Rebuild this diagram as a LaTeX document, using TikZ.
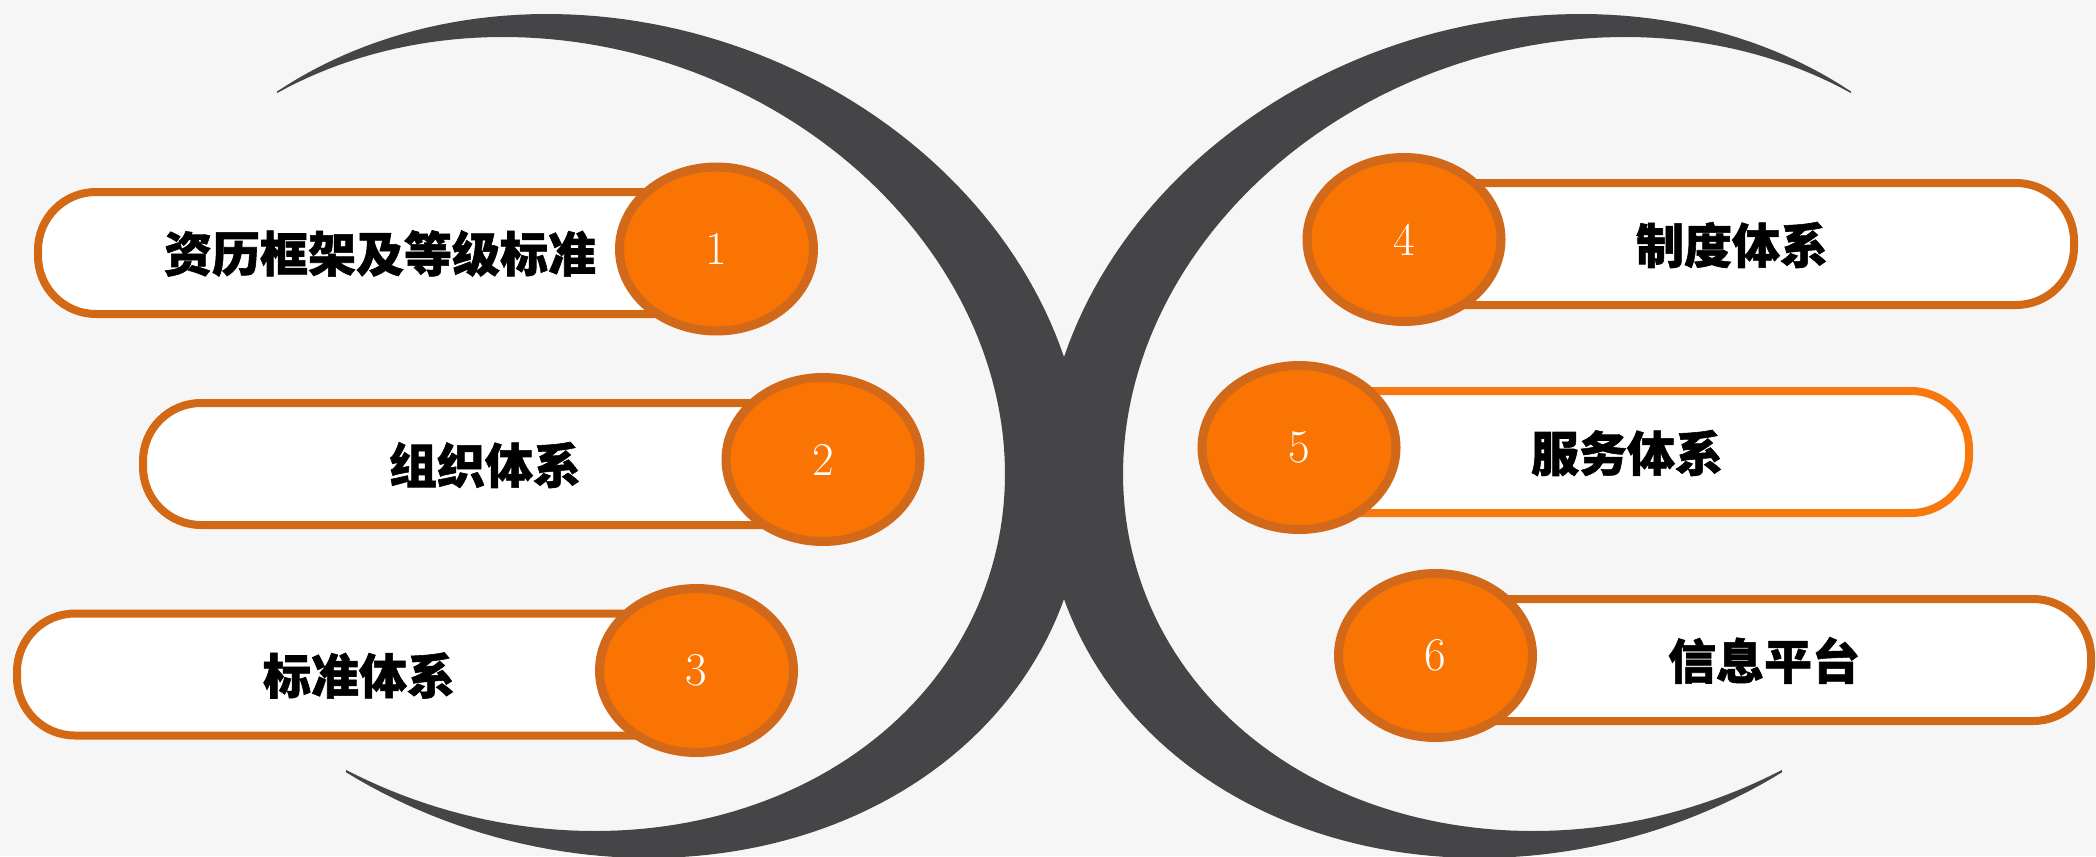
\documentclass[tikz,border=0pt]{standalone}
\usepackage{fontspec}
\newfontfamily\cjk{Noto Sans CJK SC}[BoldFeatures={FakeBold=1.2}]
\usetikzlibrary{shapes.geometric}
\definecolor{bgc}{HTML}{F6F6F6}
\definecolor{moonc}{HTML}{454547}
\definecolor{ringc}{HTML}{D2681A}
\definecolor{discfill}{HTML}{F97403}
\definecolor{pillline}{HTML}{D36815}
\definecolor{pillbright}{HTML}{F9780E}
% crescent: outer and inner elliptic arcs meeting at two tips
\newcommand\moonshape{%
  \fill[moonc]
    plot[domain=-131.3:121.2, samples=160, variable=\t]
      ({598+486.7*cos(\t)}, {436+44*cos(\t)+419.7*sin(\t)})
    -- plot[domain=-116.4:126.6, samples=160, variable=\u]
      ({549+456*cos(\u)}, {434+40*cos(\u)-395*sin(\u)})
    -- cycle;}
\begin{document}
\begin{tikzpicture}[x=0.5pt,y=-0.5pt,
  pill/.style={draw=pillline, line width=4pt, fill=white, rounded corners=29pt, inner sep=0pt, minimum height=61pt},
  disc/.style={ellipse, draw=ringc, line width=4.5pt, fill=discfill, inner sep=0pt, minimum width=97pt, minimum height=82pt, text=white, font=\fontsize{23.5}{26}\selectfont},
  itemlabel/.style={font=\cjk\bfseries\fontsize{24}{28}\selectfont, text=black, inner sep=0pt}]
\useasboundingbox (0,0) rectangle (2096,856);
\fill[bgc] (0,0) rectangle (2096,856);
\begin{scope}
  \clip (0,0) rectangle (2096,856);
  \moonshape
  \begin{scope}[xshift=1064pt, xscale=-1]
    \moonshape
  \end{scope}
\end{scope}
% pills
\node[pill, minimum width=339.25pt] (p1) at (377.25,253) {};
\node[pill, minimum width=340pt] (p2) at (483,464) {};
\node[pill, minimum width=339.75pt] (p3) at (356.75,674.5) {};
\node[pill, minimum width=335pt] (p4) at (1739,244) {};
\node[pill, draw=pillbright, minimum width=335pt] (p5) at (1634,452) {};
\node[pill, minimum width=327.75pt] (p6) at (1763.25,660) {};
% discs
\node[disc] (d1) at (716.5,249) {1};
\node[disc] (d2) at (823,459.5) {2};
\node[disc] (d3) at (696.5,670.5) {3};
\node[disc] (d4) at (1404,239.5) {4};
\node[disc] (d5) at (1299,447.5) {5};
\node[disc] (d6) at (1435.5,655.5) {6};
% labels
\node[itemlabel] (t1) at (380,253.5) {资历框架及等级标准};
\node[itemlabel] (t2) at (485,465) {组织体系};
\node[itemlabel] (t3) at (359,675.5) {标准体系};
\node[itemlabel] (t4) at (1732,245) {制度体系};
\node[itemlabel] (t5) at (1627,453) {服务体系};
\node[itemlabel] (t6) at (1764,660.5) {信息平台};
\end{tikzpicture}
\end{document}
